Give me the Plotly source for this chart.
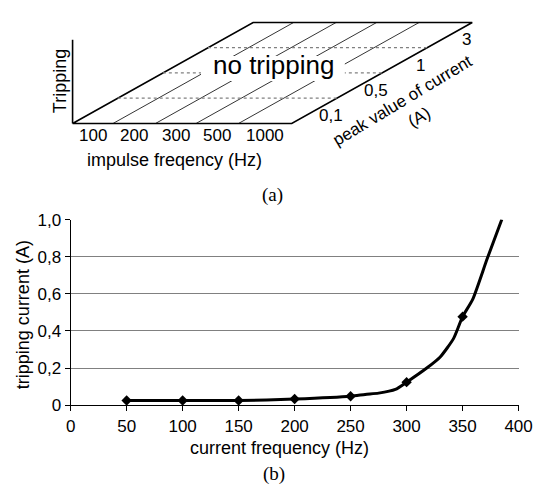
import plotly.graph_objects as go

# ---------------- data: (b) tripping current vs frequency ----------------
freq_hz = [50, 100, 150, 200, 250, 300, 350]
trip_current = [0.025, 0.025, 0.025, 0.033, 0.048, 0.124, 0.477]
curve_hz = [50, 100, 150, 200, 250, 263, 275, 290, 300, 318, 330, 342, 350, 359, 372, 385]
curve_current = [0.025, 0.025, 0.025, 0.033, 0.048, 0.058, 0.065, 0.085, 0.124,
                 0.20, 0.26, 0.36, 0.477, 0.57, 0.79, 1.0]
x_ticks = [0, 50, 100, 150, 200, 250, 300, 350, 400]
y_ticks = [0, 0.2, 0.4, 0.6, 0.8, 1.0]
y_tick_labels = ["0", "0,2", "0,4", "0,6", "0,8", "1,0"]

# ---------------- data: (a) diagram labels ----------------
impulse_freq_labels = ["100", "200", "300", "500", "1000"]
peak_current_labels = ["0,1", "0,5", "1", "3"]

# ---------------- geometry of the oblique diagram (pixels) ----------------
W, H = 549, 495
O = (70, 119)                 # front-left corner
front_edges = [0, 42, 86, 128, 172, 227]   # cell boundaries along front edge
STEP = (46.75, 26.25)         # shift per current band (right, up)
NB = len(peak_current_labels)


def proj(u, j):
    return (O[0] + u + j * STEP[0], O[1] - j * STEP[1])


FONT = "Liberation Sans, Arial, sans-serif"
SERIF = "Liberation Serif, Times New Roman, serif"

fig = go.Figure()

# outline of the plane
outline = [proj(front_edges[0], 0), proj(front_edges[-1], 0), proj(front_edges[-1], NB),
           proj(front_edges[0], NB), proj(front_edges[0], 0)]
fig.add_trace(go.Scatter(x=[p[0] for p in outline], y=[p[1] for p in outline],
                         mode="lines", line=dict(color="black", width=1.6),
                         xaxis="x2", yaxis="y2", hoverinfo="skip", showlegend=False))
# vertical "Tripping" axis
fig.add_trace(go.Scatter(x=[O[0], O[0]], y=[O[1], 32], mode="lines",
                         line=dict(color="black", width=1.6),
                         xaxis="x2", yaxis="y2", hoverinfo="skip", showlegend=False))
# slanted lines (constant frequency)
for e in front_edges[1:-1]:
    a, b = proj(e, 0), proj(e, NB)
    fig.add_trace(go.Scatter(x=[a[0], b[0]], y=[a[1], b[1]], mode="lines",
                             line=dict(color="black", width=0.8),
                             xaxis="x2", yaxis="y2", hoverinfo="skip", showlegend=False))
# dotted lines (constant current)
for j in range(1, NB):
    a, b = proj(front_edges[0], j), proj(front_edges[-1], j)
    fig.add_trace(go.Scatter(x=[a[0], b[0]], y=[a[1], b[1]], mode="lines",
                             line=dict(color="#808080", width=1.2, dash="dot"),
                             xaxis="x2", yaxis="y2", hoverinfo="skip", showlegend=False))

# ---------------- (b) curve ----------------
fig.add_trace(go.Scatter(x=curve_hz, y=curve_current, mode="lines",
                         line=dict(color="black", width=3, shape="spline", smoothing=0.6),
                         xaxis="x", yaxis="y", hoverinfo="skip", showlegend=False))
fig.add_trace(go.Scatter(x=freq_hz, y=trip_current, mode="markers",
                         marker=dict(symbol="diamond", size=8, color="black"),
                         xaxis="x", yaxis="y", showlegend=False))

annotations = []
# frequency labels
for i, lab in enumerate(impulse_freq_labels):
    cx, cy = proj((front_edges[i] + front_edges[i + 1]) / 2, 0)
    annotations.append(dict(x=cx, y=cy + 13, text=lab, xref="x2", yref="y2",
                            showarrow=False, font=dict(family=FONT, size=17, color="black")))
# current labels
for j, lab in enumerate(peak_current_labels):
    cx, cy = proj(front_edges[-1], j + 0.5)
    annotations.append(dict(x=cx + 17, y=cy + 5, text=lab, xref="x2", yref="y2",
                            showarrow=False, font=dict(family=FONT, size=17, color="black")))

annotations += [
    dict(x=278, y=58, text="no tripping", xref="x2", yref="y2", showarrow=False,
         font=dict(family=FONT, size=26, color="black")),
    dict(x=57, y=75, text="Tripping", xref="x2", yref="y2", showarrow=False, textangle=-90,
         font=dict(family=FONT, size=18, color="black")),
    dict(x=176, y=157, text="impulse freqency (Hz)", xref="x2", yref="y2", showarrow=False,
         font=dict(family=FONT, size=18, color="black")),
    dict(x=412, y=95, text="peak value of current", xref="x2", yref="y2", showarrow=False,
         textangle=-31, font=dict(family=FONT, size=17, color="black")),
    dict(x=429, y=113, text="(A)", xref="x2", yref="y2", showarrow=False,
         textangle=-30, font=dict(family=FONT, size=17, color="black")),
    dict(x=277, y=193, text="(a)", xref="x2", yref="y2", showarrow=False,
         font=dict(family=SERIF, size=19, color="black")),
    dict(x=284, y=457, text="current frequency (Hz)", xref="x2", yref="y2", showarrow=False,
         font=dict(family=FONT, size=18, color="black")),
    dict(x=18, y=318, text="tripping current (A)", xref="x2", yref="y2", showarrow=False,
         textangle=-90, font=dict(family=FONT, size=18, color="black")),
    dict(x=279, y=484, text="(b)", xref="x2", yref="y2", showarrow=False,
         font=dict(family=SERIF, size=19, color="black")),
]

shapes = [
    # white box behind "no tripping"
    dict(type="rect", xref="x2", yref="y2", x0=203, x1=352, y0=49, y1=75,
         fillcolor="white", line=dict(width=0), layer="above"),
]

x_left, x_right = 68, 532
y_top, y_bottom = 219, 412

fig.update_layout(
    width=W, height=H,
    margin=dict(l=0, r=0, t=0, b=0),
    paper_bgcolor="white", plot_bgcolor="rgba(0,0,0,0)",
    showlegend=False,
    annotations=annotations,
    shapes=shapes,
    xaxis=dict(domain=[x_left / W, x_right / W], range=[0, 400],
               tickvals=x_ticks, ticks="outside", ticklen=5, tickcolor="black",
               showline=True, linecolor="black", linewidth=1, showgrid=False,
               zeroline=False, tickfont=dict(family=FONT, size=17, color="black"),
               anchor="y", fixedrange=True),
    yaxis=dict(domain=[1 - y_bottom / H, 1 - y_top / H], range=[0, 1],
               tickvals=y_ticks, ticktext=y_tick_labels, ticks="outside", ticklen=5,
               tickcolor="black", showline=True, linecolor="black", linewidth=1,
               showgrid=True, gridcolor="#808080", gridwidth=1, zeroline=False,
               tickfont=dict(family=FONT, size=17, color="black"),
               anchor="x", fixedrange=True),
    yaxis3=dict(overlaying="y", side="right", anchor="x", range=[0, 1],
                showline=True, linecolor="#909090", linewidth=1,
                showticklabels=False, showgrid=False, zeroline=False, ticks=""),
    xaxis2=dict(domain=[0, 1], range=[0, W], visible=False, anchor="y2", fixedrange=True),
    yaxis2=dict(domain=[0, 1], range=[H, 0], visible=False, anchor="x2", fixedrange=True),
)

fig.write_html("out.html", config={"displayModeBar": False},
               post_script="document.body.style.margin='0';document.body.style.overflow='hidden';")
